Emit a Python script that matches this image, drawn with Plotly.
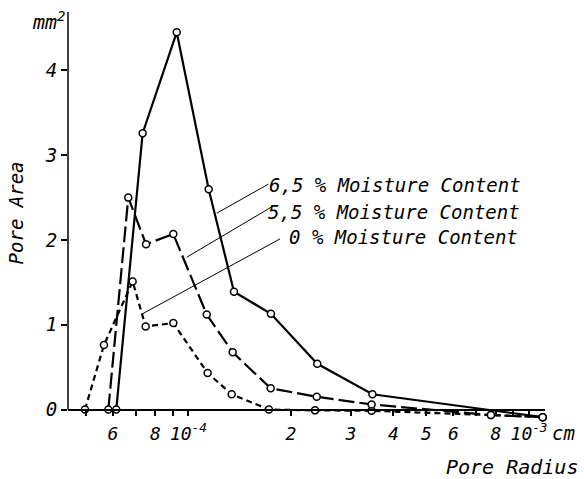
import numpy as np
import plotly.graph_objects as go

# ---- data (pore radius in cm, pore area in mm^2) ----
x_65 = [6.14e-5, 7.34e-5, 9.24e-5, 1.147e-4, 1.361e-4, 1.747e-4, 2.39e-4, 3.47e-4, 1.097e-3]
y_65 = [0.0, 3.26, 4.45, 2.60, 1.39, 1.13, 0.54, 0.18, -0.09]

x_55 = [5.82e-5, 6.66e-5, 7.51e-5, 9.03e-5, 1.132e-4, 1.349e-4, 1.744e-4, 2.381e-4, 3.45e-4, 7.73e-4, 1.097e-3]
y_55 = [0.0, 2.50, 1.95, 2.07, 1.12, 0.675, 0.25, 0.15, 0.06, -0.065, -0.09]

x_0 = [4.97e-5, 5.65e-5, 6.86e-5, 7.49e-5, 9.03e-5, 1.139e-4, 1.34e-4, 1.724e-4, 2.354e-4, 3.45e-4, 7.73e-4, 1.097e-3]
y_0 = [0.0, 0.76, 1.51, 0.98, 1.02, 0.43, 0.18, 0.0, -0.01, -0.015, -0.065, -0.09]

labels = ["6,5 % Moisture Content", "5,5 % Moisture Content", "0 % Moisture Content"]
# leader lines: start on curve -> end at label (data coords)
leader_x0 = [1.211e-4, 0.989e-4, 7.29e-5]
leader_y0 = [2.316, 1.797, 1.124]
leader_x1 = [1.717e-4, 1.757e-4, 1.858e-4]
leader_y1 = [2.659, 2.391, 2.013]
label_xend = [9.62e-4, 9.52e-4, 9.41e-4]
label_y = [2.65, 2.335, 2.04]

x_labelvals = [6e-5, 8e-5, 1e-4, 2e-4, 3e-4, 4e-4, 5e-4, 6e-4, 8e-4, 1e-3]
x_labeltext = ["6", "8", "10<sup>-4</sup>", "2", "3", "4", "5", "6", "8", "10<sup>-3</sup>"]
x_tickvals = [5e-5, 6e-5, 7e-5, 8e-5, 9e-5, 1e-4, 2e-4, 3e-4, 4e-4, 5e-4, 6e-4, 7e-4, 8e-4, 9e-4, 1e-3]
y_tickvals = [0, 1, 2, 3, 4]

FONT = "DejaVu Sans Mono"
YMIN, YMAX = -0.1, 4.69
XR = [-4.3535, -2.953]
POS = (0 - YMIN) / (YMAX - YMIN)

fig = go.Figure()
marker = dict(symbol="circle", size=7, color="white", line=dict(color="black", width=1.5))
fig.add_trace(go.Scatter(x=x_0, y=y_0, mode="lines+markers", cliponaxis=False,
                         line=dict(color="black", width=2.2, dash="6px,4px"), marker=marker))
fig.add_trace(go.Scatter(x=x_55, y=y_55, mode="lines+markers", cliponaxis=False,
                         line=dict(color="black", width=2.2, dash="16px,5px"), marker=marker))
fig.add_trace(go.Scatter(x=x_65, y=y_65, mode="lines+markers", cliponaxis=False,
                         line=dict(color="black", width=2.2), marker=marker))

# y-axis line from 0 upward
fig.add_shape(type="line", xref="paper", yref="y", x0=0, x1=0, y0=0, y1=YMAX,
              line=dict(color="black", width=1.5))

for i in range(3):
    fig.add_shape(type="line", xref="x", yref="y",
                  x0=leader_x0[i], y0=leader_y0[i], x1=leader_x1[i], y1=leader_y1[i],
                  line=dict(color="black", width=1))
    fig.add_annotation(x=np.log10(label_xend[i]), y=label_y[i], xref="x", yref="y",
                       text=labels[i], showarrow=False, xanchor="right", yanchor="middle",
                       font=dict(family=FONT, size=19, color="black", style="italic"))

fig.add_annotation(x=-0.11, y=2.32, xref="paper", yref="y", text="Pore Area", textangle=-90,
                   showarrow=False, xanchor="center", yanchor="middle",
                   font=dict(family=FONT, size=19, color="black", style="italic"))
fig.add_annotation(x=-0.04, y=4.587, xref="paper", yref="y", text="mm<sup>2</sup>",
                   showarrow=False, xanchor="center", yanchor="middle",
                   font=dict(family=FONT, size=20, color="black", style="italic"))
fig.add_annotation(x=1.0734, y=-0.1215, xref="paper", yref="paper", text="Pore Radius",
                   showarrow=False, xanchor="right", yanchor="middle",
                   font=dict(family=FONT, size=20, color="black", style="italic"))
fig.add_annotation(x=1.0388, y=-0.0377, xref="paper", yref="paper", text="cm",
                   showarrow=False, xanchor="center", yanchor="middle",
                   font=dict(family=FONT, size=19, color="black", style="italic"))

fig.update_layout(
    width=584, height=479,
    margin=dict(l=68, r=39, t=12, b=61.3, pad=0),
    paper_bgcolor="white", plot_bgcolor="white",
    showlegend=False,
    xaxis=dict(type="log", range=XR, anchor="free", position=POS,
               showgrid=False, zeroline=False, showline=True, linecolor="black", linewidth=1.5,
               ticks="outside", ticklen=5, tickwidth=1.5, tickcolor="black",
               tickvals=x_labelvals, ticktext=x_labeltext, ticklabelstandoff=3,
               tickfont=dict(family=FONT, size=18, color="black", style="italic")),
    xaxis2=dict(type="log", range=XR, anchor="free", position=POS, overlaying="x",
                showgrid=False, zeroline=False, showline=False,
                ticks="outside", ticklen=5, tickwidth=1.5, tickcolor="black",
                tickvals=x_tickvals, showticklabels=False),
    yaxis=dict(range=[YMIN, YMAX], showgrid=False, zeroline=False, showline=False,
               ticks="outside", ticklen=6, tickwidth=1.5, tickcolor="black",
               tickvals=y_tickvals,
               tickfont=dict(family=FONT, size=19, color="black", style="italic")),
)
# dummy invisible trace to activate xaxis2
fig.add_trace(go.Scatter(x=[x_tickvals[0]], y=[0], xaxis="x2", yaxis="y", mode="markers",
                         marker=dict(opacity=0), hoverinfo="skip", showlegend=False))

fig.write_html("out.html")
